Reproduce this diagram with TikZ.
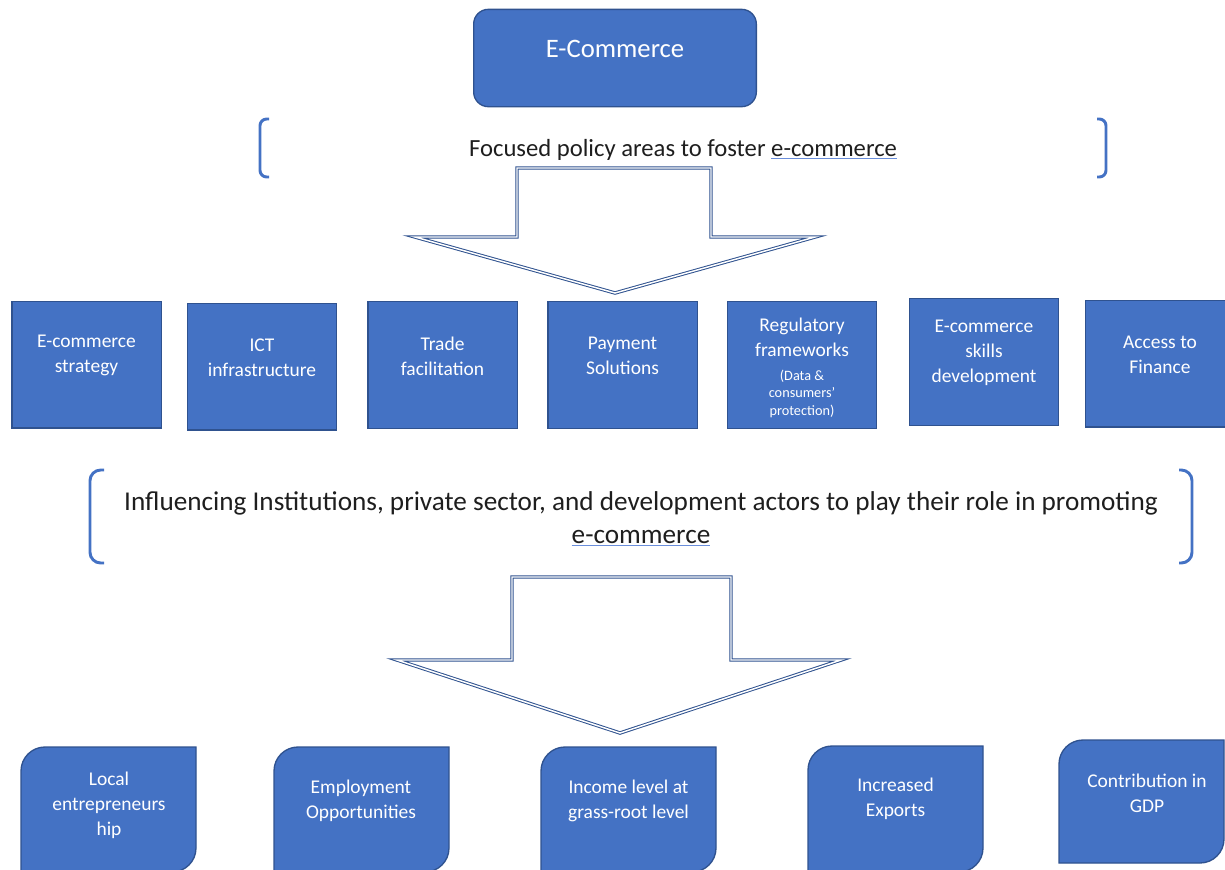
\documentclass[tikz,border=0pt]{standalone}
\usepackage{fontspec}
\setmainfont{Carlito}
\definecolor{ecblue}{HTML}{4472C4}
\definecolor{ecedge}{HTML}{2F528F}
\definecolor{ulblue}{HTML}{6A8EDB}
\definecolor{textgray}{HTML}{1E1E1E}
% underlined term in the headings
\newcommand{\ecterm}[1]{{\color{ulblue}\underline{\textcolor{textgray}{#1}}}}

\begin{document}
\begin{tikzpicture}[x=0.75pt,y=-0.75pt,
	topbox/.style={rectangle,rounded corners=11pt,fill=ecblue,draw=ecedge,line width=1pt,
		minimum width=212pt,minimum height=73pt},
	polbox/.style={rectangle,fill=ecblue,draw=ecedge,line width=1pt,
		minimum width=112pt,minimum height=95pt},
	boxtext/.style={text=white,align=center,font=\fontsize{14.6}{18.75}\selectfont,yshift=6.75pt},
	outbox/.style={fill=ecblue,draw=ecedge,line width=1pt},
	outtext/.style={text=white,align=center,font=\fontsize{14.6}{18.75}\selectfont},
	heading/.style={text=textgray,align=center},
	brace/.style={draw=ecblue,line width=2.2pt,rounded corners=5pt},
	blockarrow/.style={draw=ecedge,double=white,double distance=1.1pt,line width=0.75pt,fill=white,line join=miter}]
	
	\useasboundingbox (0,0) rectangle (1225,869);
	\clip (0,0) rectangle (1225,869);
	
	% Top box
	\node[topbox,label={[boxtext,font=\fontsize{20}{24}\selectfont]center:E-Commerce}] (ecom) at (615,58) {};
	
	% First heading
	\draw[brace] (269,119) -- (260,119) -- (260,177) -- (269,177);
	\draw[brace] (1097,119) -- (1106,119) -- (1106,177) -- (1097,177);
	\node[heading,font=\fontsize{18.5}{22}\selectfont] (policy) at (683,150) {Focused policy areas to foster \ecterm{e-commerce}};
	
	% First arrow
	\draw[blockarrow] (517,168) -- (711,168) -- (711,237) -- (815,237) -- (615,293) -- (415,237) -- (517,237) -- cycle;
	
	% Policy areas
	\node[polbox,label={[boxtext]center:E-commerce\\strategy}] (strategy) at (86.5,364.5) {};
	\node[polbox,label={[boxtext]center:ICT\\infrastructure}] (ict) at (262,366.5) {};
	\node[polbox,label={[boxtext]center:Trade\\facilitation}] (trade) at (442.5,365) {};
	\node[polbox,label={[boxtext]center:Payment\\Solutions}] (payment) at (622.5,365) {};
	\node[polbox,label={[boxtext,yshift=-9pt]center:Regulatory\\frameworks\\[-0.5pt]{\fontsize{10.7}{12}\selectfont(Data \&}\\[-6.5pt]{\fontsize{10.7}{12}\selectfont consumers’}\\[-5pt]{\fontsize{10.7}{12}\selectfont protection)}}] (regulatory) at (802,365) {};
	\node[polbox,label={[boxtext]center:E-commerce\\skills\\development}] (skills) at (984,362) {};
	\node[polbox,label={[boxtext]center:Access to\\Finance}] (finance) at (1160,363.5) {};
	
	% Second heading
	\draw[brace,rounded corners=8pt] (104,470) -- (90,470) -- (90,563) -- (104,563);
	\draw[brace,rounded corners=8pt] (1179,470) -- (1192,470) -- (1192,563) -- (1179,563);
	\node[heading,font=\fontsize{20.4}{24.75}\selectfont] (actors) at (641,519) {Influencing Institutions, private sector, and development actors to play their role in promoting\\\ecterm{e-commerce}};
	
	% Second arrow
	\draw[blockarrow] (512,577) -- (731,577) -- (731,660) -- (841,660) -- (620,733) -- (397,660) -- (512,660) -- cycle;
	
	% Outcomes
	\filldraw[outbox] (21,800) [rounded corners=18pt] -- (21,747) [sharp corners] -- (196,747) [rounded corners=18pt] -- (196,872) [sharp corners] -- (21,872) -- cycle;
	\filldraw[outbox] (274,800) [rounded corners=18pt] -- (274,747) [sharp corners] -- (449,747) [rounded corners=18pt] -- (449,872) [sharp corners] -- (274,872) -- cycle;
	\filldraw[outbox] (541,800) [rounded corners=18pt] -- (541,747) [sharp corners] -- (716,747) [rounded corners=18pt] -- (716,872) [sharp corners] -- (541,872) -- cycle;
	\filldraw[outbox] (808,800) [rounded corners=18pt] -- (808,746) [sharp corners] -- (983,746) [rounded corners=18pt] -- (983,872) [sharp corners] -- (808,872) -- cycle;
	\filldraw[outbox] (1059,800) [rounded corners=18pt] -- (1059,740) [sharp corners] -- (1224,740) [rounded corners=18pt] -- (1224,863) [sharp corners] -- (1059,863) -- cycle;
	\node[outtext] (local) at (109,805) {Local\\entrepreneurs\\hip};
	\node[outtext] (jobs) at (361,801) {Employment\\Opportunities};
	\node[outtext] (income) at (628.5,801) {Income level at\\grass-root level};
	\node[outtext] (exports) at (895.5,799) {Increased\\Exports};
	\node[outtext] (gdp) at (1147,793) {Contribution in\\GDP};
\end{tikzpicture}
\end{document}
